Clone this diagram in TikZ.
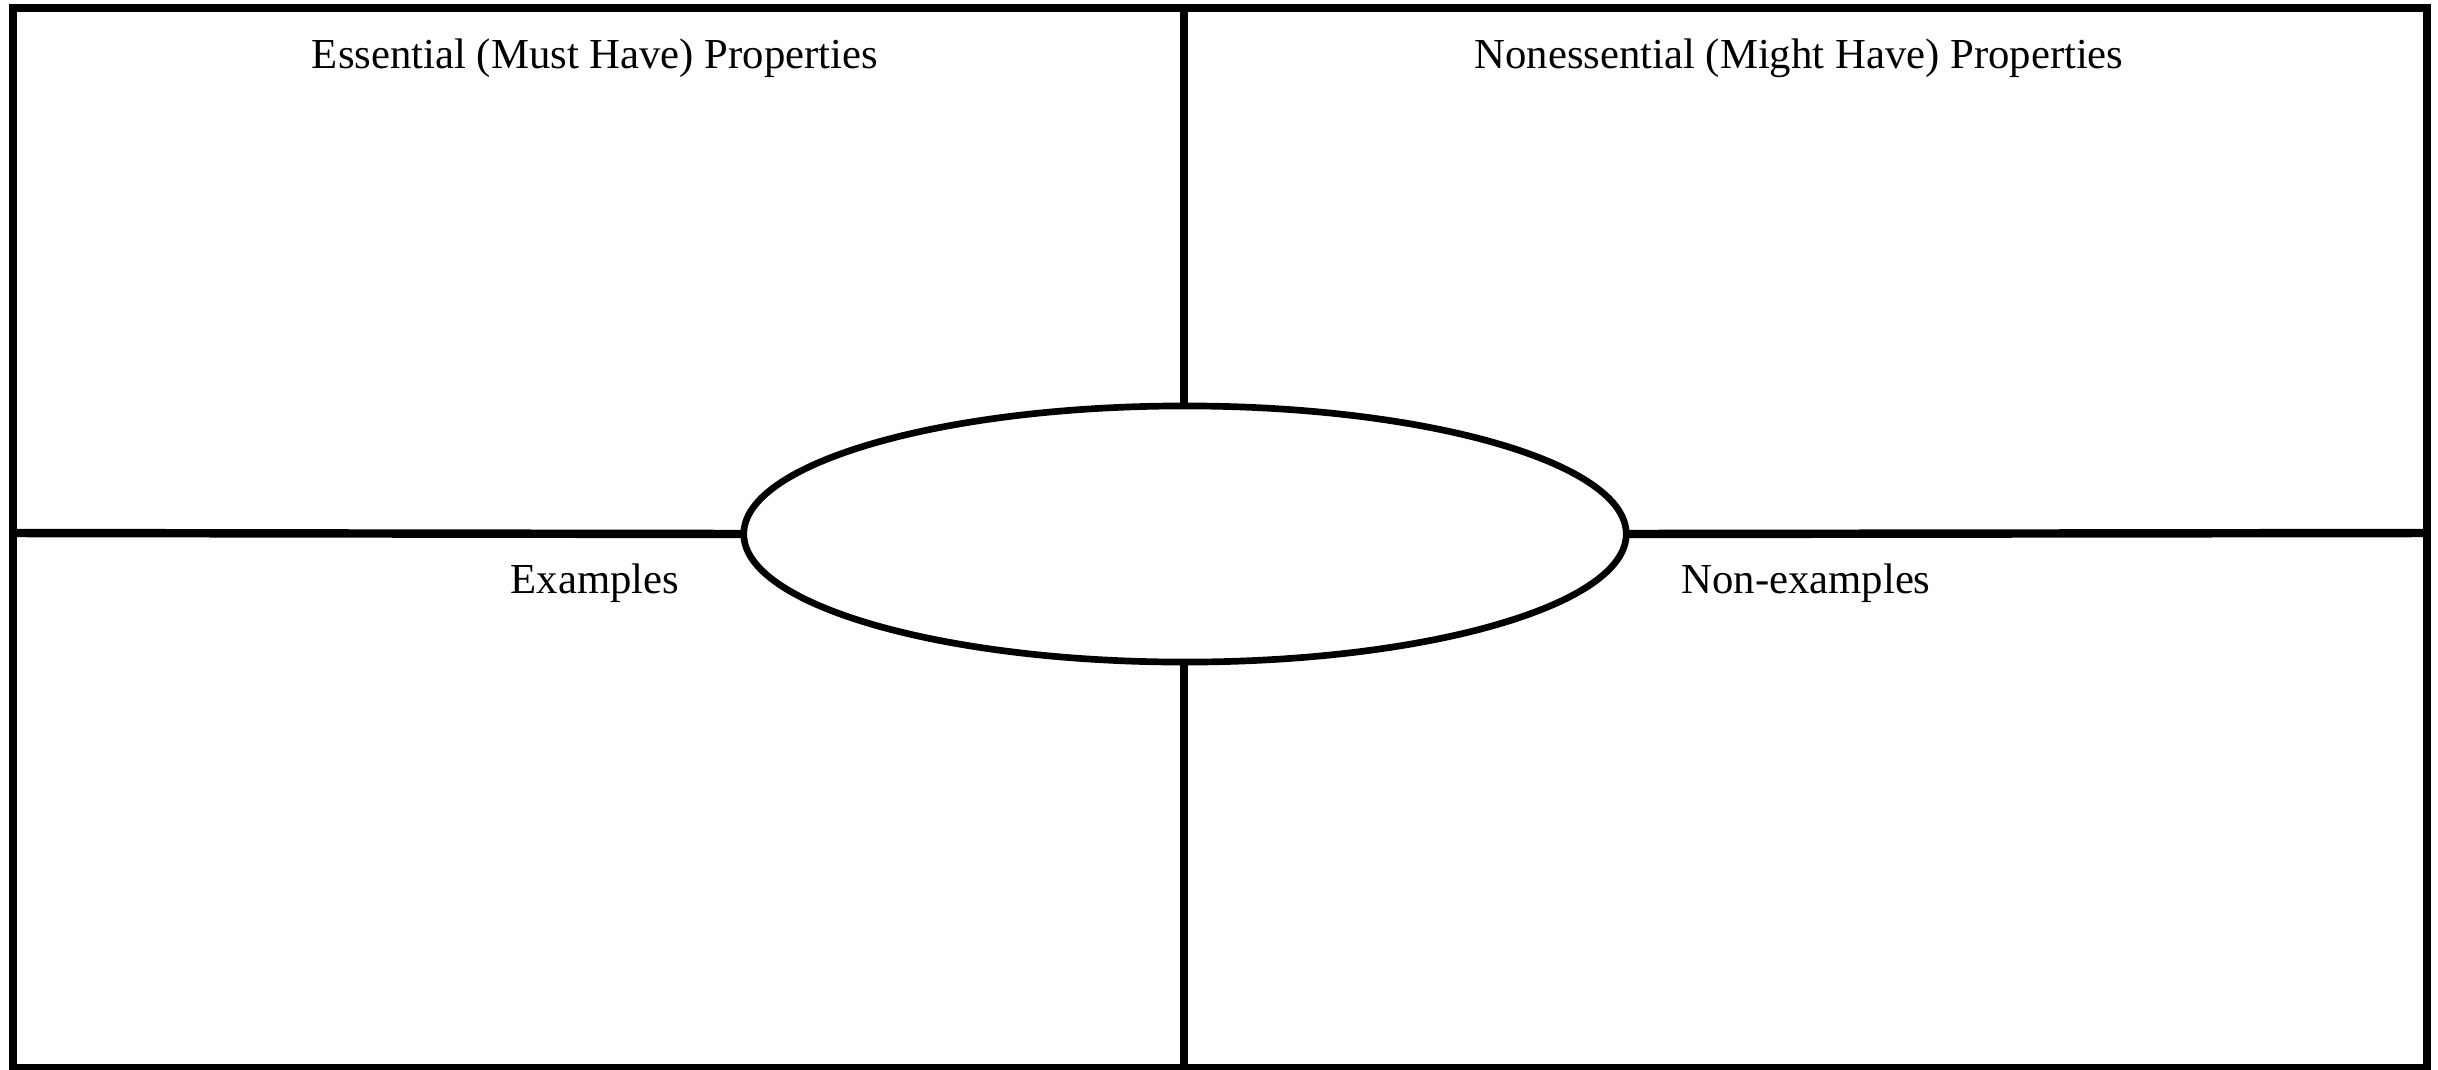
\documentclass[tikz,border=0pt]{standalone}
\usepackage{fontspec}
\setmainfont{Liberation Serif}
\usetikzlibrary{shapes.geometric}

\begin{document}
\begin{tikzpicture}[x=0.01cm, y=-0.01cm,
        frame/.style={line width=2.4pt},
        hub/.style={ellipse, draw, line width=1.9pt, inner sep=0pt, outer sep=0pt,
            minimum width=8.82cm, minimum height=2.56cm},
        title/.style={anchor=base, font=\fontsize{12.15}{14}\selectfont, inner sep=0pt}]
            \useasboundingbox (0,0) rectangle (2438,1069);
            \coordinate (NW) at (13,8);
            \coordinate (SE) at (2427,1068);
            \coordinate (T) at (1184,8);
            \coordinate (B) at (1184,1068);
            \coordinate (L) at (13,533);
            \coordinate (R) at (2427,533);
            \node[hub] (C) at (1185,534) {};
            \draw[frame] (NW) rectangle (SE);
            \draw[frame] (T) -- (T |- C.north);
            \draw[frame] (B) -- (B |- C.south);
            \draw[frame] (L) -- (C.west);
            \draw[frame] (R) -- (C.east);
            \node[title] (must) at (595,68) {Essential (Must Have) Properties};
            \node[title] (might) at (1799,68) {Nonessential (Might Have) Properties};
            \node[title] (ex) at (595,593) {Examples};
            \node[title] (nonex) at (1806,593) {Non-examples};
        \end{tikzpicture}
\end{document}
